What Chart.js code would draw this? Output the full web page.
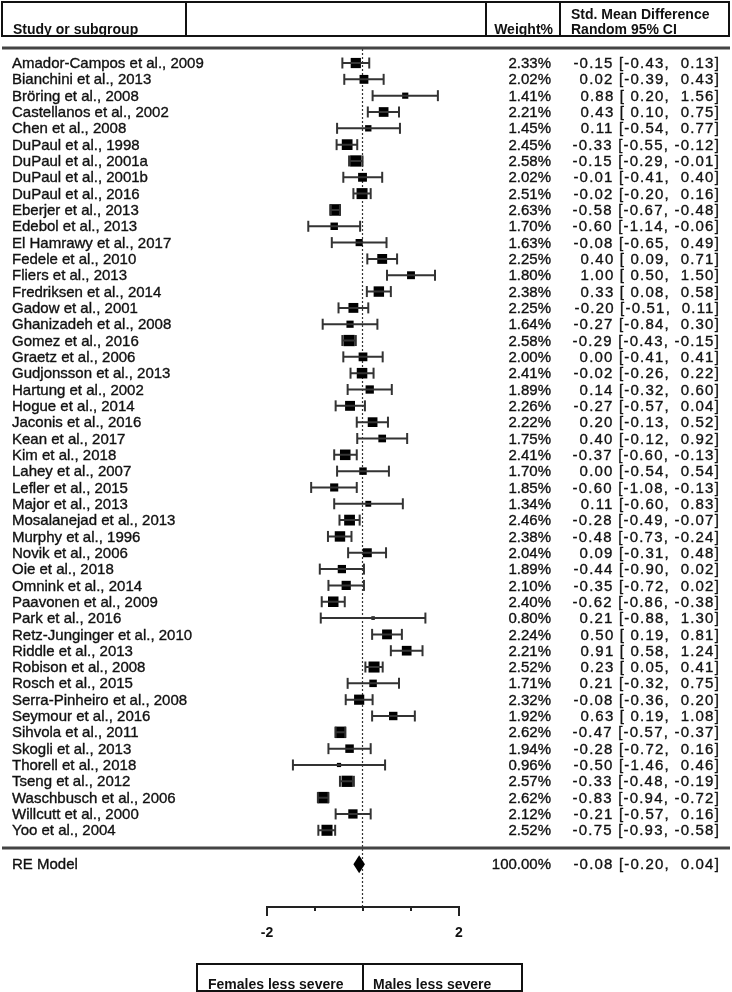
<!DOCTYPE html>
<html>
<head>
<meta charset="utf-8">
<script src="https://cdn.jsdelivr.net/npm/chart.js@4.4.0/dist/chart.umd.min.js"></script>
<style>
  html, body { margin: 0; padding: 0; background: #fff; }
  #wrap { position: relative; width: 732px; height: 992px; }
</style>
</head>
<body>
<div id="wrap"><canvas id="forest" width="732" height="992"></canvas></div>
<script>
// study rows, top to bottom
const studies = [
  'Amador-Campos et al., 2009', 'Bianchini et al., 2013', 'Bröring et al., 2008',
  'Castellanos et al., 2002', 'Chen et al., 2008', 'DuPaul et al., 1998',
  'DuPaul et al., 2001a', 'DuPaul et al., 2001b', 'DuPaul et al., 2016',
  'Eberjer et al., 2013', 'Edebol et al., 2013', 'El Hamrawy et al., 2017',
  'Fedele et al., 2010', 'Fliers et al., 2013', 'Fredriksen et al., 2014',
  'Gadow et al., 2001', 'Ghanizadeh et al., 2008', 'Gomez et al., 2016',
  'Graetz et al., 2006', 'Gudjonsson et al., 2013', 'Hartung et al., 2002',
  'Hogue et al., 2014', 'Jaconis et al., 2016', 'Kean et al., 2017',
  'Kim et al., 2018', 'Lahey et al., 2007', 'Lefler et al., 2015',
  'Major et al., 2013', 'Mosalanejad et al., 2013', 'Murphy et al., 1996',
  'Novik et al., 2006', 'Oie et al., 2018', 'Omnink et al., 2014',
  'Paavonen et al., 2009', 'Park et al., 2016', 'Retz-Junginger et al., 2010',
  'Riddle et al., 2013', 'Robison et al., 2008', 'Rosch et al., 2015',
  'Serra-Pinheiro et al., 2008', 'Seymour et al., 2016', 'Sihvola et al., 2011',
  'Skogli et al., 2013', 'Thorell et al., 2018', 'Tseng et al., 2012',
  'Waschbusch et al., 2006', 'Willcutt et al., 2000', 'Yoo et al., 2004'
];
const weights = [
  2.33, 2.02, 1.41, 2.21, 1.45, 2.45, 2.58, 2.02, 2.51, 2.63, 1.70, 1.63,
  2.25, 1.80, 2.38, 2.25, 1.64, 2.58, 2.00, 2.41, 1.89, 2.26, 2.22, 1.75,
  2.41, 1.70, 1.85, 1.34, 2.46, 2.38, 2.04, 1.89, 2.10, 2.40, 0.80, 2.24,
  2.21, 2.52, 1.71, 2.32, 1.92, 2.62, 1.94, 0.96, 2.57, 2.62, 2.12, 2.52
];
const estimates = [
  -0.15, 0.02, 0.88, 0.43, 0.11, -0.33, -0.15, -0.01, -0.02, -0.58, -0.60, -0.08,
  0.40, 1.00, 0.33, -0.20, -0.27, -0.29, 0.00, -0.02, 0.14, -0.27, 0.20, 0.40,
  -0.37, 0.00, -0.60, 0.11, -0.28, -0.48, 0.09, -0.44, -0.35, -0.62, 0.21, 0.50,
  0.91, 0.23, 0.21, -0.08, 0.63, -0.47, -0.28, -0.50, -0.33, -0.83, -0.21, -0.75
];
const lower = [
  -0.43, -0.39, 0.20, 0.10, -0.54, -0.55, -0.29, -0.41, -0.20, -0.67, -1.14, -0.65,
  0.09, 0.50, 0.08, -0.51, -0.84, -0.43, -0.41, -0.26, -0.32, -0.57, -0.13, -0.12,
  -0.60, -0.54, -1.08, -0.60, -0.49, -0.73, -0.31, -0.90, -0.72, -0.86, -0.88, 0.19,
  0.58, 0.05, -0.32, -0.36, 0.19, -0.57, -0.72, -1.46, -0.48, -0.94, -0.57, -0.93
];
const upper = [
  0.13, 0.43, 1.56, 0.75, 0.77, -0.12, -0.01, 0.40, 0.16, -0.48, -0.06, 0.49,
  0.71, 1.50, 0.58, 0.11, 0.30, -0.15, 0.41, 0.22, 0.60, 0.04, 0.52, 0.92,
  -0.13, 0.54, -0.13, 0.83, -0.07, -0.24, 0.48, 0.02, 0.02, -0.38, 1.30, 0.81,
  1.24, 0.41, 0.75, 0.20, 1.08, -0.37, 0.16, 0.46, -0.19, -0.72, 0.16, -0.58
];

// pooled random-effects estimate
const pooledLabel = 'RE Model';
const pooledWeight = 100.00;
const pooledEst = -0.08;
const pooledLower = -0.20;
const pooledUpper = 0.04;

const xTicks = [-2, -1, 0, 1, 2];
const xTickLabels = ['-2', '', '', '', '2'];
const headers = ['Study or subgroup', 'Weight%', 'Std. Mean Difference', 'Random 95% CI'];
const directionLabels = ['Females less severe', 'Males less severe'];

// layout (row units on the y scale)
const ROW0 = 1;
const POOLED_ROW = 50.08;
const Y_MAX = 52.7;
const INK = '#111';
const LABEL_FONT = '15px "Liberation Sans", Arial, sans-serif';
const HEAD_FONT = 'bold 14px "Liberation Sans", Arial, sans-serif';

function fmt(v) { return v.toFixed(2); }
// "-0.15 [-0.43,  0.13]" style, positives padded with a space
function pad(v) { return (v < 0 ? '' : ' ') + fmt(v); }
function ciText(e, lo, hi) { return pad(e) + ' [' + pad(lo) + ', ' + pad(hi) + ']'; }

// draw text a little heavier, the source is a blurry scan
function heavyText(ctx, s, px, py) {
  ctx.fillText(s, px, py);
  ctx.strokeText(s, px, py);
}

// CI segments, broken with null points
const ciData = [];
studies.forEach((s, i) => {
  ciData.push({ x: lower[i], y: ROW0 + i });
  ciData.push({ x: upper[i], y: ROW0 + i });
  ciData.push({ x: null, y: null });
});
const pointData = studies.map((s, i) => ({ x: estimates[i], y: ROW0 + i }));

const tablePlugin = {
  id: 'forestTable',
  beforeDatasetsDraw(chart) {
    const { ctx, scales: { x, y } } = chart;
    const zx = Math.round(x.getPixelForValue(0)) - 0.5;
    ctx.save();
    ctx.strokeStyle = '#333';
    ctx.lineWidth = 1.2;
    ctx.setLineDash([2, 2]);
    ctx.beginPath();
    ctx.moveTo(zx, 49);
    ctx.lineTo(zx, y.getPixelForValue(Y_MAX));
    ctx.stroke();
    ctx.restore();
  },
  afterDatasetsDraw(chart) {
    const { ctx, scales: { x, y } } = chart;
    ctx.save();
    ctx.fillStyle = INK;
    ctx.strokeStyle = INK;

    // header box
    ctx.lineWidth = 2;
    ctx.strokeRect(2, 2, 727, 34);
    [186, 486, 560].forEach(px => {
      ctx.beginPath(); ctx.moveTo(px, 2); ctx.lineTo(px, 36); ctx.stroke();
    });
    ctx.font = HEAD_FONT;
    ctx.textBaseline = 'alphabetic';
    ctx.textAlign = 'left';
    ctx.fillText(headers[0], 13, 34);
    ctx.textAlign = 'right';
    ctx.fillText(headers[1], 553, 34);
    ctx.textAlign = 'left';
    ctx.fillText(headers[2], 571, 19);
    ctx.fillText(headers[3], 571, 34);

    // thick separators
    ctx.strokeStyle = '#444';
    ctx.lineWidth = 3;
    ctx.beginPath(); ctx.moveTo(2, 48); ctx.lineTo(730, 48); ctx.stroke();
    ctx.beginPath(); ctx.moveTo(2, 848); ctx.lineTo(730, 848); ctx.stroke();

    // study rows
    ctx.font = LABEL_FONT;
    ctx.textBaseline = 'middle';
    ctx.strokeStyle = INK;
    ctx.lineWidth = 0.35;
    const row = (label, w, e, lo, hi, py) => {
      ctx.letterSpacing = '0px';
      ctx.textAlign = 'left';
      heavyText(ctx, label, 12, py);
      ctx.textAlign = 'right';
      heavyText(ctx, fmt(w) + '%', 551, py);
      ctx.letterSpacing = '1.2px';
      heavyText(ctx, ciText(e, lo, hi), 720, py);
    };
    studies.forEach((s, i) => {
      row(s, weights[i], estimates[i], lower[i], upper[i], y.getPixelForValue(ROW0 + i) + 1);
    });
    const pyP = y.getPixelForValue(POOLED_ROW);
    row(pooledLabel, pooledWeight, pooledEst, pooledLower, pooledUpper, pyP + 1);
    ctx.letterSpacing = '0px';

    // diamond
    ctx.fillStyle = '#000';
    ctx.beginPath();
    ctx.moveTo(x.getPixelForValue(pooledLower), pyP);
    ctx.lineTo(x.getPixelForValue(pooledEst), pyP - 9);
    ctx.lineTo(x.getPixelForValue(pooledUpper), pyP);
    ctx.lineTo(x.getPixelForValue(pooledEst), pyP + 9);
    ctx.closePath();
    ctx.fill();

    // x axis, ticks pointing down
    const ay = y.getPixelForValue(Y_MAX);
    ctx.strokeStyle = '#222';
    ctx.fillStyle = INK;
    ctx.lineWidth = 2;
    ctx.beginPath();
    ctx.moveTo(x.getPixelForValue(xTicks[0]), ay);
    ctx.lineTo(x.getPixelForValue(xTicks[xTicks.length - 1]), ay);
    ctx.stroke();
    ctx.font = HEAD_FONT;
    ctx.textAlign = 'center';
    ctx.textBaseline = 'middle';
    xTicks.forEach((t, k) => {
      const px = Math.round(x.getPixelForValue(t));
      const len = xTickLabels[k] ? 9 : 4;
      ctx.beginPath(); ctx.moveTo(px, ay - 1); ctx.lineTo(px, ay + len); ctx.stroke();
      if (xTickLabels[k]) ctx.fillText(xTickLabels[k], px, ay + 26);
    });

    // direction box
    const zx = Math.round(x.getPixelForValue(0));
    ctx.strokeStyle = INK;
    ctx.lineWidth = 2;
    ctx.strokeRect(197, 964, 325, 27);
    ctx.beginPath(); ctx.moveTo(zx, 964); ctx.lineTo(zx, 991); ctx.stroke();
    ctx.textAlign = 'left';
    ctx.textBaseline = 'alphabetic';
    ctx.fillText(directionLabels[0], 208, 989);
    ctx.fillText(directionLabels[1], zx + 10, 989);
    ctx.restore();
  }
};

new Chart(document.getElementById('forest'), {
  type: 'scatter',
  data: {
    datasets: [
      {
        label: 'CI',
        data: ciData,
        showLine: true,
        spanGaps: false,
        borderColor: '#333',
        borderWidth: 2,
        pointStyle: 'line',
        rotation: 90,
        pointRadius: 5.5,
        pointBorderColor: '#333',
        pointBorderWidth: 2,
        clip: false
      },
      {
        label: 'SMD',
        data: pointData,
        pointStyle: 'rect',
        pointRadius: ctx => weights[ctx.dataIndex] * 3.1,
        pointBackgroundColor: '#000',
        pointBorderWidth: 0,
        clip: false
      }
    ]
  },
  options: {
    responsive: false,
    animation: false,
    devicePixelRatio: 1,
    layout: { padding: { left: 267, right: 273, top: 46.7, bottom: 85 } },
    plugins: { legend: { display: false }, tooltip: { enabled: false } },
    scales: {
      x: { type: 'linear', min: -2, max: 2, display: false },
      y: { type: 'linear', min: 0, max: Y_MAX, reverse: true, display: false }
    }
  },
  plugins: [tablePlugin]
});
</script>
</body>
</html>
